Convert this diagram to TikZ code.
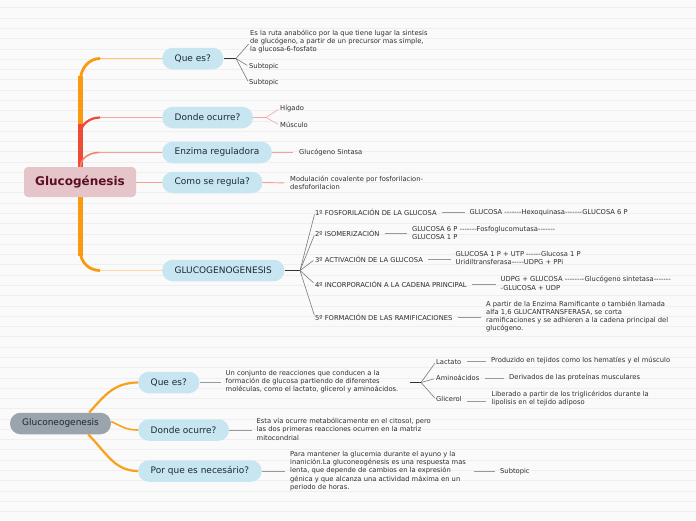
\documentclass[tikz,border=0pt]{standalone}
\usepackage{fontspec}
\setmainfont{DejaVu Sans}[Ligatures=TeXOff]
\definecolor{bgcol}{HTML}{FAFAFA}
\definecolor{linecol}{HTML}{EFEFEF}
\definecolor{topicfill}{HTML}{C7E6F1}
\definecolor{topictext}{HTML}{1E2A33}
\definecolor{smalltext}{HTML}{2E2E2E}
\definecolor{cfill}{HTML}{E5C5C9}
\definecolor{ctext}{HTML}{5B1020}
\definecolor{gfill}{HTML}{9BA3AC}
\definecolor{gtext}{HTML}{1C2833}
\definecolor{orangeT}{HTML}{F99A10}
\definecolor{redT}{HTML}{EE4A35}
\definecolor{lightOr}{HTML}{FCC47C}
\definecolor{pinkL}{HTML}{F5A5A0}
\definecolor{salmonL}{HTML}{F2866B}
\definecolor{salmonP}{HTML}{F3A08C}
\definecolor{paleOr}{HTML}{FDD9A6}
\definecolor{fancol}{HTML}{7A7A7A}
\definecolor{conncol}{HTML}{999999}
\definecolor{stubcol}{HTML}{333333}
\definecolor{lowOr}{HTML}{F9A11B}
\begin{document}
\begin{tikzpicture}[x=1pt,y=-1pt,
  topic/.style={rounded corners=10.5pt, fill=topicfill, text=topictext,
    font=\fontsize{9}{11}\selectfont, minimum height=21.5pt, inner xsep=12.5pt,
    inner ysep=0pt, anchor=west},
  central/.style={rounded corners=4pt, fill=cfill, text=ctext,
    font=\fontsize{12}{14}\selectfont\bfseries, minimum width=112pt, minimum height=30pt, inner sep=0pt},
  root2/.style={rounded corners=10.5pt, fill=gfill, text=gtext,
    font=\fontsize{9}{11}\selectfont, minimum width=101pt, minimum height=21.5pt, inner sep=0pt},
  small/.style={font=\fontsize{6.75}{8.3}\selectfont, text=smalltext, inner sep=0pt, anchor=west, align=left},
  conn/.style={draw=conncol, line width=0.8pt},
  fan/.style={draw=fancol, line width=0.6pt, shorten >=2pt},
  stub/.style={draw=stubcol, line width=1.3pt},
]
\useasboundingbox (0,0) rectangle (696,520);
\fill[bgcol] (0,0) rectangle (696,520);
\foreach \i in {0,...,49} \draw[linecol, line width=0.5pt] (0,{7.7+10.28*\i}) -- (696,{7.7+10.28*\i});

% ---------- upper map ----------
\node[central] (gl) at (80,182) {Glucogénesis};
\node[topic] (qe) at (162,58.5) {Que es?};
\node[topic] (dn) at (162,117.5) {Donde ocurre?};
\node[topic] (ez) at (162,152.5) {Enzima reguladora};
\node[topic] (cs) at (162,182.5) {Como se regula?};
\node[topic] (gg) at (162,270.5) {GLUCOGENOGENESIS};

\coordinate (tA) at (80.5,76);
\coordinate (tB) at (80.5,124);
\coordinate (tC) at (80.5,256);
\coordinate (qeC) at (100,58.5);
\coordinate (dnC) at (100,117.5);
\coordinate (ezC) at (99,152.5);
\coordinate (ggC) at (100,270.5);

% trunk
\draw[orangeT, line width=4.5pt] (tA) -- (tB);
\draw[redT, line width=4.5pt] (tB) -- (gl.north -| tB);
\draw[orangeT, line width=4.5pt] (gl.south -| tC) -- (tC);
% curves
\draw[lightOr, line width=1.3pt] (qeC) -- (qe.west);
\draw[orangeT, line width=2.8pt] (80.5,80) to[out=90,in=180] (qeC);
\draw[pinkL, line width=1.3pt] (dnC) -- (dn.west);
\draw[redT, line width=2.2pt] (80.5,134) to[out=90,in=180] (dnC);
\draw[salmonP, line width=1pt] (ezC) -- (ez.west);
\draw[salmonL, line width=1.6pt] (80.5,167) to[out=90,in=180] (ezC);
\draw[salmonP, line width=1pt] (gl.east |- cs.west) -- (cs.west);
\draw[paleOr, line width=1.6pt] (ggC) -- (gg.west);
\draw[orangeT, line width=2.8pt] (80.5,252) to[out=-90,in=180] (ggC);

% Que es? children
\node[small] (t1) at (250,41.5) {Es la ruta anabólico por la que tiene lugar la sintesis\\de glucógeno, a partir de un precursor mas simple,\\la glucosa-6-fosfato};
\node[small] (s1) at (249,66.5) {Subtopic};
\node[small] (s2) at (249,83) {Subtopic};
\coordinate (qeF) at (236,58.5);
\draw[stub] (qe.east) -- (qeF);
\draw[fan] (qeF) -- ([yshift=-1pt]t1.west);
\draw[fan] (qeF) -- (s1.west);
\draw[fan] (qeF) -- (s2.west);

% Donde ocurre? children
\node[small] (hi) at (280,108.3) {Hígado};
\node[small] (mu) at (280,125.3) {Músculo};
\coordinate (dnF) at (266,117.5);
\draw[pinkL, line width=1.3pt] (dn.east) -- (dnF);
\draw[pinkL, line width=0.6pt, shorten >=2pt] (dnF) -- (hi.west);
\draw[pinkL, line width=0.6pt, shorten >=2pt] (dnF) -- (mu.west);

% Enzima / Como
\node[small] (gs) at (299,152.5) {Glucógeno Sintasa};
\draw[salmonP, line width=0.9pt, shorten >=6pt] (ez.east) -- (gs.west);
\node[small] (mo) at (290,183) {Modulación covalente por fosforilacion-\\desfoforilacion};
\draw[salmonP, line width=0.9pt, shorten >=6pt] (cs.east) -- (mo.west);

% GLUCOGENOGENESIS children
\node[small] (i1) at (315,212.5) {1º FOSFORILACIÓN DE LA GLUCOSA};
\node[small] (i2) at (315,233.5) {2º ISOMERIZACIÓN};
\node[small] (i3) at (315,259.3) {3º ACTIVACIÓN DE LA GLUCOSA};
\node[small] (i4) at (315,284.2) {4º INCORPORACIÓN A LA CADENA PRINCIPAL};
\node[small] (i5) at (315,317.3) {5º FORMACIÓN DE LAS RAMIFICACIONES};
\coordinate (ggF) at (300,270.5);
\draw[stub] (gg.east) -- (ggF);
\foreach \n in {i1,i2,i3,i4,i5} \draw[fan] (ggF) -- (\n.west);

\node[small] (d1) at (469.5,212.5) {GLUCOSA -------Hexoquinasa-------GLUCOSA 6 P};
\node[small] (d2) at (412,233) {GLUCOSA 6 P -------Fosfoglucomutasa-------\\GLUCOSA 1 P};
\node[small] (d3) at (455.5,258.3) {GLUCOSA 1 P + UTP ------Glucosa 1 P\\Uridiltransferasa-----UDPG + PPi};
\node[small] (d4) at (500.5,283.2) {UDPG + GLUCOSA --------Glucógeno sintetasa-------\\-GLUCOSA + UDP};
\node[small] (d5) at (486,316.5) {A partir de la Enzima Ramificante o también llamada\\alfa 1,6 GLUCANTRANSFERASA, se corta\\ramificaciones y se adhieren a la cadena principal del\\glucógeno.};
\draw[conn, shorten <=5pt, shorten >=5pt] (i1.east) -- (i1.east -| d1.west);
\draw[conn, shorten <=5pt, shorten >=5pt] (i2.east) -- (i2.east -| d2.west);
\draw[conn, shorten <=5pt, shorten >=5pt] (i3.east) -- (i3.east -| d3.west);
\draw[conn, shorten <=5pt, shorten >=5pt] (i4.east) -- (i4.east -| d4.west);
\draw[conn, shorten <=5pt, shorten >=5pt] (i5.east) -- (i5.east -| d5.west);

% ---------- lower map ----------
\node[root2] (gn) at (60.5,423.5) {Gluconeogenesis};
\node[topic] (lq) at (138,382.5) {Que es?};
\node[topic] (ld) at (138,430) {Donde ocurre?};
\node[topic] (lp) at (138,471) {Por que es necesário?};

\draw[lowOr, line width=2.2pt] ([xshift=-22pt]gn.north east) .. controls (104,396) and (114,382.5) .. (lq.west);
\draw[lowOr, line width=1.6pt] ([yshift=2pt]gn.east) .. controls (122,426.5) and (126,430) .. (ld.west);
\draw[lowOr, line width=2.2pt] ([xshift=-23pt]gn.south east) .. controls (106,452) and (114,471) .. (lp.west);

\node[small] (uq) at (225.5,381.7) {Un conjunto de reacciones que conducen a la\\formación de glucosa partiendo de diferentes\\moléculas, como el lactato, glicerol y aminoácidos.};
\node[small] (ev) at (256.5,429.3) {Esta vía ocurre metabólicamente en el citosol, pero\\las dos primeras reacciones ocurren en la matriz\\mitocondrial};
\node[small] (pm) at (290,471) {Para mantener la glucemia durante el ayuno y la\\inanición.La gluconeogénesis es una respuesta mas\\lenta, que depende de cambios en la expresión\\génica y que alcanza una actividad máxima en un\\periodo de horas.};
\draw[conn, line width=0.9pt, shorten >=5pt] (lq.east) -- (lq.east -| uq.west);
\draw[conn, line width=0.9pt, shorten >=5pt] (ld.east) -- (ld.east -| ev.west);
\draw[conn, line width=0.9pt, shorten >=5pt] (lp.east) -- (lp.east -| pm.west);

\node[small] (la) at (436,361.7) {Lactato};
\node[small] (am) at (436,378.3) {Aminoácidos};
\node[small] (gc) at (436,399.3) {Glicerol};
\coordinate (uqA) at (410,382.5);
\coordinate (uqF) at (421,382.5);
\draw[stub] (uqA) -- (uqF);
\draw[fan] (uqF) -- (la.west);
\draw[fan] (uqF) -- (am.west);
\draw[fan] (uqF) -- (gc.west);

\node[small] (pr) at (491,360.7) {Produzido en tejidos como los hematíes y el músculo};
\node[small] (dv) at (509,377.7) {Derivados de las proteínas musculares};
\node[small] (lb) at (491.3,398.8) {Liberado a partir de los triglicéridos durante la\\lipolisis en el tejido adiposo};
\draw[conn, shorten <=5pt, shorten >=5pt] (la.east) -- (la.east -| pr.west);
\draw[conn, shorten <=5pt, shorten >=5pt] (am.east) -- (am.east -| dv.west);
\draw[conn, shorten <=5pt, shorten >=5pt] ([yshift=-2pt]gc.east) -- ([yshift=-2pt]gc.east -| lb.west);

\node[small] (st) at (500,471.5) {Subtopic};
\coordinate (pmA) at (474,471);
\draw[conn, line width=0.9pt, shorten >=5pt] (pmA) -- (pmA -| st.west);
\end{tikzpicture}
\end{document}
